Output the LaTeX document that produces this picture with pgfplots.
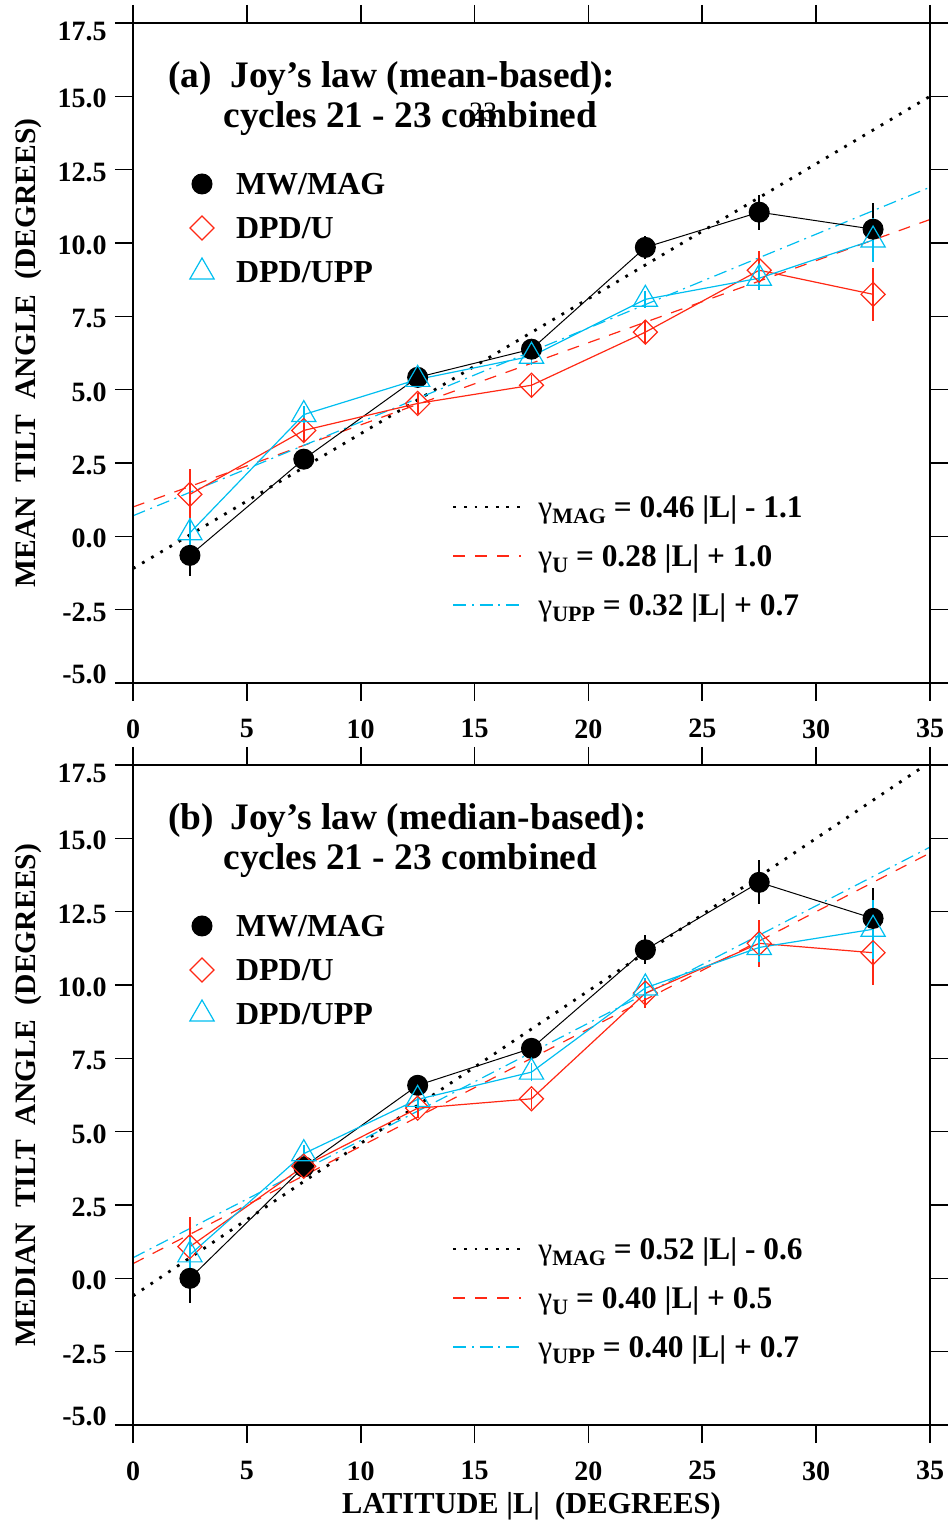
\documentclass[border=0pt]{standalone}
\usepackage{fontspec}
\setmainfont{Liberation Serif}
\usepackage{pgfplots}
\usepackage{pgfplotstable}
\pgfplotsset{compat=1.18}
\definecolor{myred}{RGB}{255,40,20}
\definecolor{mycyan}{RGB}{0,190,240}

% ---------- mean-based data ----------
\pgfplotstableread{
x y e
2.5 -0.65 0.7
7.5 2.63 0.35
12.5 5.42 0.3
17.5 6.38 0.3
22.5 9.85 0.4
27.5 11.05 0.6
32.5 10.47 0.9
}\meanMAG
\pgfplotstableread{
x y e
2.5 1.43 0.85
7.5 3.61 0.4
12.5 4.53 0.35
17.5 5.15 0.35
22.5 6.96 0.4
27.5 9.07 0.65
32.5 8.25 0.9
}\meanU
\pgfplotstableread{
x y e
2.5 0.12 0.5
7.5 4.15 0.3
12.5 5.35 0.3
17.5 6.14 0.3
22.5 8.08 0.3
27.5 8.8 0.4
32.5 10.1 0.75
}\meanUPP
% ---------- median-based data ----------
\pgfplotstableread{
x y e
2.5 0.0 0.85
7.5 3.8 0.35
12.5 6.58 0.35
17.5 7.84 0.3
22.5 11.2 0.5
27.5 13.5 0.75
32.5 12.27 1.05
}\medMAG
\pgfplotstableread{
x y e
2.5 1.08 1.0
7.5 3.82 0.4
12.5 5.8 0.35
17.5 6.12 0.35
22.5 9.72 0.5
27.5 11.42 0.8
32.5 11.1 1.1
}\medU
\pgfplotstableread{
x y e
2.5 0.8 0.6
7.5 4.25 0.3
12.5 6.1 0.3
17.5 7.03 0.3
22.5 9.9 0.35
27.5 11.28 0.5
32.5 11.9 1.0
}\medUPP

\newcommand{\tickfont}{\fontsize{14}{14}\selectfont\bfseries}
\newcommand{\legfont}{\fontsize{16}{16}\selectfont\bfseries}
\newcommand{\eqfont}{\fontsize{15.7}{16}\selectfont\bfseries}
\newcommand{\titlefont}{\fontsize{18.7}{22}\selectfont\bfseries}
\newcommand{\labfont}{\fontsize{14.8}{16}\selectfont\bfseries}
\newcommand{\sub}[1]{\raisebox{-3pt}{\fontsize{11}{11}\selectfont #1}}

\pgfplotsset{
  panel/.style={
    scale only axis, width=398.5pt, height=330pt,
    xmin=0, xmax=35, ymin=-5, ymax=17.5,
    xtick={0,5,10,15,20,25,30,35},
    ytick={-5,-2.5,0,2.5,5,7.5,10,12.5,15,17.5},
    xticklabels={0,5,10,15,20,25,30,35},
    yticklabels={\raisebox{5.5pt}{-5.0},-2.5,0.0,2.5,5.0,7.5,10.0,12.5,15.0,\raisebox{-3pt}{17.5}},
    tick align=outside, major tick length=9pt,
    axis line style={line width=0.8pt},
    every tick/.style={black, line width=0.8pt},
    ticklabel style={font=\tickfont},
    xticklabel style={inner sep=0pt, anchor=north, yshift=-9pt},
    yticklabel style={inner sep=0pt, anchor=east, text height=9.6pt, text depth=0pt, xshift=-4pt, yshift=-1pt},
  },
  fitaxis/.style={
    panel, hide axis,
    legend image code/.code={\draw[##1] (0pt,0pt) -- (34pt,0pt); \path[draw=none,fill=none] (0pt,0pt) -- (42.5pt,0pt);},
    legend style={at={(0.4003,0.29)}, anchor=north west, draw=none, fill=none,
      inner sep=0pt, outer sep=0pt, row sep=9.1pt, font=\eqfont,
      nodes={inner sep=0pt, text height=13.1pt, text depth=2.3pt}},
    legend cell align=left,
  },
  dataaxis/.style={
    panel,
    legend image code/.code={\draw[mark repeat=1,mark phase=1,##1] plot coordinates {(0pt,0pt)}; \path[draw=none,fill=none] (-8pt,0pt) -- (17pt,0pt);},
    legend style={at={(0.0665,0.7794)}, anchor=north west, draw=none, fill=none,
      inner sep=0pt, outer sep=0pt, row sep=6.6pt, font=\legfont,
      nodes={inner sep=0pt, text height=13pt, text depth=2.4pt}},
    legend cell align=left,
  },
  dotfit/.style={black, line width=1.4pt, dash pattern=on 1.4pt off 3.9pt},
  dashfit/.style={myred, line width=0.6pt, dash pattern=on 6pt off 5pt},
  dashdotfit/.style={mycyan, line width=0.6pt, dash pattern=on 6.5pt off 2.8pt on 1pt off 2.8pt},
  magser/.style={black, line width=0.5pt, mark=*, mark size=5pt, mark options={solid, fill=black},
    error bars/.cd, y dir=both, y explicit, error mark=none, error bar style={line width=1pt}},
  user/.style={myred, line width=0.6pt, mark=square, mark size=4.25pt, mark options={solid, fill=none, rotate=45},
    error bars/.cd, y dir=both, y explicit, error mark=none, error bar style={line width=0.9pt}},
  uppser/.style={mycyan, line width=0.6pt, mark=triangle, mark size=7pt, mark options={solid, fill=none},
    error bars/.cd, y dir=both, y explicit, error mark=none, error bar style={line width=0.9pt}},
}

\begin{document}
\begin{tikzpicture}
\path[use as bounding box] (0,0) rectangle (474pt,760pt);

% ===== top panel: fits =====
\begin{axis}[fitaxis, at={(66.5pt,418.5pt)}, anchor=south west]
\addplot[dotfit] coordinates {(0,-1.1) (35,15.0)};
\addlegendentry{{\mdseries γ}\sub{MAG} = 0.46 |L| - 1.1}
\addplot[dashfit] coordinates {(0,1.0) (35,10.8)};
\addlegendentry{{\mdseries γ}\sub{U} = 0.28 |L| + 1.0}
\addplot[dashdotfit] coordinates {(0,0.7) (35,11.9)};
\addlegendentry{{\mdseries γ}\sub{UPP} = 0.32 |L| + 0.7}
\end{axis}
% ===== top panel: data =====
\begin{axis}[dataaxis, at={(66.5pt,418.5pt)}, anchor=south west]
\addplot[magser] table[x=x, y=y, y error=e] {\meanMAG};
\addlegendentry{MW/MAG}
\addplot[user] table[x=x, y=y, y error=e] {\meanU};
\addlegendentry{DPD/U}
\addplot[uppser] table[x=x, y=y, y error=e] {\meanUPP};
\addlegendentry{DPD/UPP}
\end{axis}

% ===== bottom panel: fits =====
\begin{axis}[fitaxis, at={(66.5pt,47.5pt)}, anchor=south west]
\addplot[dotfit] coordinates {(0,-0.6) (35,17.6)};
\addlegendentry{{\mdseries γ}\sub{MAG} = 0.52 |L| - 0.6}
\addplot[dashfit] coordinates {(0,0.5) (35,14.5)};
\addlegendentry{{\mdseries γ}\sub{U} = 0.40 |L| + 0.5}
\addplot[dashdotfit] coordinates {(0,0.7) (35,14.7)};
\addlegendentry{{\mdseries γ}\sub{UPP} = 0.40 |L| + 0.7}
\end{axis}
% ===== bottom panel: data =====
\begin{axis}[dataaxis, at={(66.5pt,47.5pt)}, anchor=south west]
\addplot[magser] table[x=x, y=y, y error=e] {\medMAG};
\addlegendentry{MW/MAG}
\addplot[user] table[x=x, y=y, y error=e] {\medU};
\addlegendentry{DPD/U}
\addplot[uppser] table[x=x, y=y, y error=e] {\medUPP};
\addlegendentry{DPD/UPP}
\end{axis}

% ===== titles and labels =====
\node[anchor=base west, inner sep=0pt, font=\titlefont] at (84pt,716pt) {(a)};
\node[anchor=base west, inner sep=0pt, font=\titlefont] at (115pt,716pt) {Joy’s law (mean-based):};
\node[anchor=base west, inner sep=0pt, font=\titlefont] at (111.5pt,696pt) {cycles 21 - 23 combined};
\node[inner sep=0pt, font=\fontsize{14}{14}\selectfont] at (241.5pt,704pt) {23};

\node[anchor=base west, inner sep=0pt, font=\titlefont] at (84pt,345pt) {(b)};
\node[anchor=base west, inner sep=0pt, font=\titlefont] at (115pt,345pt) {Joy’s law (median-based):};
\node[anchor=base west, inner sep=0pt, font=\titlefont] at (111.5pt,325pt) {cycles 21 - 23 combined};

\node[rotate=90, anchor=base, inner sep=0pt, font=\labfont] at (17.5pt,583.5pt) {MEAN\ \ TILT\ \ ANGLE\ \ (DEGREES)};
\node[rotate=90, anchor=base, inner sep=0pt, font=\labfont] at (17.5pt,212.5pt) {MEDIAN\ \ TILT\ \ ANGLE\ \ (DEGREES)};
\node[anchor=base, inner sep=0pt, font=\fontsize{15.2}{16}\selectfont\bfseries] at (265.75pt,3pt) {LATITUDE\ |L|\ \ (DEGREES)};
\end{tikzpicture}
\end{document}
